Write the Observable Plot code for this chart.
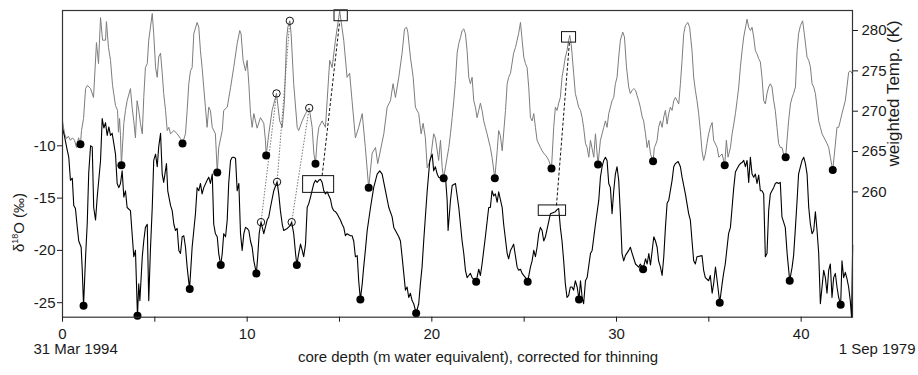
<!DOCTYPE html>
<html><head><meta charset="utf-8">
<script src="https://cdn.jsdelivr.net/npm/d3@7"></script>
<script src="https://cdn.jsdelivr.net/npm/@observablehq/plot@0.6"></script>
<style>body{margin:0;background:#fff} svg{display:block}</style>
</head><body><div id="chart"></div>
<script>
// weighted temperature (K) vs core depth (m w.e.)  [depth, T]
const tempSeries = [[0,268.8],[0.11,267.2],[0.22,266.6],[0.32,266.9],[0.43,266.4],[0.54,266.7],[0.65,266.4],[0.76,265.5],[0.87,266.7],[0.97,265.9],[1.03,267.6],[1.14,269.1],[1.25,272.8],[1.35,273.2],[1.52,272.8],[1.68,271.7],[1.84,278.5],[1.95,275.9],[2.06,281.6],[2.17,278.8],[2.33,278.8],[2.38,281.1],[2.49,277.9],[2.60,276.3],[2.71,273.2],[2.87,270.7],[2.98,270.1],[3.03,267.4],[3.09,269.1],[3.14,267.0],[3.19,263.3],[3.32,268.5],[3.41,270.1],[3.50,271.3],[3.68,272.8],[3.77,270.5],[3.86,268.8],[3.95,266.7],[4.04,271.3],[4.13,270.1],[4.22,268.5],[4.32,267.2],[4.40,271.7],[4.49,275.4],[4.59,275.9],[4.67,278.8],[4.86,282.1],[4.94,279.6],[5.04,275.4],[5.13,274.2],[5.21,276.7],[5.31,277.2],[5.40,274.7],[5.48,272.2],[5.58,270.1],[5.67,267.6],[5.76,268.0],[5.85,267.2],[6.03,267.6],[6.21,267.2],[6.39,266.6],[6.50,266.0],[6.66,267.2],[6.75,270.1],[6.84,273.4],[6.93,275.0],[7.02,275.4],[7.11,279.6],[7.29,281.0],[7.38,280.4],[7.47,277.5],[7.56,275.4],[7.65,272.9],[7.74,270.5],[7.83,268.0],[7.92,270.5],[8.01,270.1],[8.11,268.0],[8.28,267.2],[8.38,262.4],[8.46,265.5],[8.65,267.6],[8.73,270.1],[8.92,270.5],[9.10,272.9],[9.27,275.4],[9.46,278.4],[9.60,280.0],[9.67,279.6],[9.78,276.3],[9.91,275.0],[10.00,276.3],[10.09,273.4],[10.18,269.7],[10.27,268.0],[10.36,269.7],[10.45,268.8],[10.54,267.9],[10.72,269.2],[10.90,268.5],[10.99,266.4],[11.03,264.5],[11.17,267.2],[11.35,270.1],[11.59,272.2],[11.76,268.8],[11.90,268.0],[12.02,271.3],[12.13,278.8],[12.20,280.4],[12.31,281.2],[12.38,279.6],[12.52,273.4],[12.71,268.0],[12.79,267.6],[12.98,268.8],[13.16,269.7],[13.36,270.4],[13.52,268.0],[13.61,264.8],[13.70,263.5],[13.79,266.4],[13.88,268.0],[14.06,268.8],[14.24,268.0],[14.33,271.3],[14.47,276.3],[14.60,275.4],[14.78,278.8],[14.96,281.6],[15.01,282.4],[15.23,278.8],[15.41,274.2],[15.55,274.7],[15.68,271.3],[15.86,266.7],[16.04,268.0],[16.23,269.7],[16.40,265.5],[16.58,260.5],[16.77,264.8],[16.95,265.5],[17.07,263.5],[17.40,267.2],[17.58,270.5],[17.76,271.3],[17.90,273.4],[18.03,271.7],[18.21,274.2],[18.39,277.2],[18.52,280.2],[18.63,280.4],[18.70,279.8],[18.84,276.7],[18.99,274.2],[19.11,270.5],[19.29,269.7],[19.42,267.2],[19.53,268.5],[19.65,266.7],[19.75,263.0],[19.92,263.9],[20.10,267.2],[20.19,266.7],[20.37,263.9],[20.47,266.4],[20.56,263.0],[20.64,261.7],[20.83,264.3],[20.92,265.5],[21.01,267.2],[21.10,269.2],[21.19,271.3],[21.28,273.8],[21.37,277.2],[21.46,278.4],[21.55,279.1],[21.64,280.0],[21.73,280.2],[21.82,279.6],[21.91,277.5],[22.00,274.2],[22.09,273.4],[22.18,274.2],[22.27,271.3],[22.36,270.5],[22.45,269.2],[22.54,270.1],[22.63,271.0],[22.72,270.1],[22.81,268.8],[22.90,268.0],[22.99,267.2],[23.17,265.5],[23.26,264.3],[23.41,261.7],[23.54,265.1],[23.62,267.6],[23.71,267.0],[23.81,265.1],[23.99,270.1],[24.08,273.4],[24.16,274.2],[24.26,274.7],[24.43,277.2],[24.53,277.9],[24.62,278.8],[24.70,279.6],[24.80,281.0],[24.89,278.8],[24.98,276.7],[25.07,275.9],[25.16,275.4],[25.25,272.9],[25.34,269.2],[25.43,268.8],[25.52,269.7],[25.61,268.0],[25.70,266.4],[25.88,265.5],[25.97,265.1],[26.06,264.8],[26.24,264.3],[26.33,263.9],[26.48,262.9],[26.60,268.0],[26.69,270.5],[26.78,270.1],[26.87,271.0],[26.96,271.7],[27.05,274.2],[27.14,275.4],[27.23,276.7],[27.32,277.5],[27.41,278.8],[27.47,279.4],[27.54,278.4],[27.59,277.2],[27.68,274.7],[27.77,272.2],[27.87,271.3],[27.95,270.5],[28.05,270.1],[28.14,269.2],[28.22,268.0],[28.32,266.0],[28.41,265.5],[28.50,264.3],[28.59,266.4],[28.77,264.3],[28.86,267.2],[29.00,263.4],[29.13,266.4],[29.22,267.2],[29.31,268.0],[29.40,268.8],[29.49,268.0],[29.58,269.7],[29.76,271.3],[29.85,271.7],[29.94,273.4],[30.03,274.2],[30.12,276.7],[30.21,278.8],[30.34,279.8],[30.43,279.2],[30.54,275.5],[30.66,273.0],[30.75,272.2],[30.85,272.6],[30.94,272.8],[31.03,272.6],[31.12,271.9],[31.20,271.3],[31.29,270.5],[31.39,269.3],[31.47,268.8],[31.57,267.2],[31.66,265.5],[31.75,266.4],[31.84,264.7],[31.98,263.8],[32.05,265.5],[32.11,265.8],[32.20,266.4],[32.28,268.0],[32.38,268.8],[32.47,268.0],[32.56,269.3],[32.65,270.1],[32.74,268.4],[32.83,269.7],[32.92,270.5],[33.01,270.1],[33.10,271.3],[33.19,271.7],[33.28,271.3],[33.37,270.9],[33.46,273.4],[33.55,276.3],[33.64,279.6],[33.73,280.6],[33.86,281.0],[33.96,280.4],[34.09,277.5],[34.18,274.2],[34.27,272.6],[34.36,271.3],[34.45,269.7],[34.54,267.6],[34.63,265.1],[34.72,263.9],[34.81,264.7],[34.90,266.0],[34.99,267.2],[35.08,268.0],[35.18,268.6],[35.26,266.4],[35.45,265.5],[35.54,264.3],[35.72,264.7],[35.86,263.3],[35.95,266.4],[36.04,264.3],[36.17,265.5],[36.26,267.2],[36.35,268.4],[36.44,269.7],[36.53,271.3],[36.62,273.0],[36.71,275.5],[36.80,277.5],[36.89,279.2],[37.07,281.4],[37.16,280.4],[37.25,280.0],[37.34,280.4],[37.43,279.2],[37.52,277.5],[37.61,277.1],[37.70,276.5],[37.79,276.1],[37.88,274.2],[37.97,271.3],[38.06,270.9],[38.15,272.2],[38.24,273.0],[38.33,273.4],[38.42,273.0],[38.51,271.3],[38.60,270.1],[38.69,268.0],[38.78,266.0],[38.87,265.5],[38.96,265.5],[39.05,264.7],[39.16,264.3],[39.32,268.8],[39.42,270.9],[39.51,271.7],[39.59,272.2],[39.69,273.0],[39.78,277.5],[39.86,279.6],[39.96,280.6],[40.08,281.2],[40.17,279.6],[40.32,276.7],[40.41,276.3],[40.50,275.5],[40.59,273.4],[40.68,273.0],[40.77,272.2],[40.86,270.5],[40.95,268.8],[41.04,268.0],[41.13,267.2],[41.22,266.8],[41.40,266.0],[41.49,265.5],[41.58,264.3],[41.71,262.7],[41.80,264.7],[41.94,268.0],[42.03,268.0],[42.12,268.8],[42.21,269.7],[42.30,270.5],[42.39,271.3],[42.48,273.0],[42.57,274.8],[42.66,275.0],[42.79,274.6]];

// delta 18O (per mil) vs core depth  [depth, d18O]
const d18OSeries = [[0,-8.3],[0.11,-9.1],[0.22,-10.1],[0.34,-11.1],[0.43,-13.3],[0.53,-13.1],[0.61,-15.7],[0.70,-16.0],[0.80,-17.8],[0.88,-19.1],[1.01,-19.7],[1.07,-21.9],[1.14,-25.3],[1.25,-20.6],[1.34,-17.4],[1.42,-12.6],[1.52,-10.0],[1.61,-10.1],[1.69,-15.9],[1.79,-17.1],[1.88,-14.9],[2.06,-11.4],[2.15,-7.4],[2.24,-8.3],[2.33,-7.8],[2.42,-9.0],[2.51,-8.2],[2.60,-9.0],[2.69,-8.8],[2.78,-9.8],[2.87,-10.8],[2.96,-13.6],[3.05,-14.0],[3.14,-13.6],[3.23,-12.4],[3.32,-14.9],[3.41,-14.3],[3.50,-15.9],[3.68,-16.2],[3.77,-18.4],[3.86,-20.6],[3.95,-20.0],[4.06,-26.3],[4.13,-23.2],[4.19,-24.8],[4.32,-20.6],[4.40,-19.1],[4.49,-17.8],[4.59,-17.5],[4.67,-24.8],[4.76,-20.0],[4.86,-15.9],[4.94,-11.4],[5.04,-10.8],[5.13,-12.0],[5.21,-10.1],[5.31,-8.8],[5.40,-12.7],[5.48,-13.5],[5.63,-11.7],[5.70,-14.3],[5.85,-15.7],[5.94,-16.2],[6.03,-17.5],[6.12,-18.1],[6.21,-17.9],[6.30,-20.0],[6.39,-20.3],[6.48,-18.7],[6.57,-18.6],[6.66,-19.7],[6.75,-21.6],[6.88,-23.7],[7.02,-19.7],[7.11,-18.1],[7.20,-16.5],[7.29,-14.0],[7.38,-14.3],[7.47,-13.6],[7.56,-14.6],[7.65,-14.0],[7.83,-13.3],[7.92,-13.0],[8.01,-13.6],[8.11,-12.7],[8.19,-17.5],[8.28,-18.4],[8.38,-18.7],[8.46,-20.3],[8.57,-21.4],[8.65,-20.3],[8.73,-18.4],[8.83,-18.7],[8.92,-17.1],[9.00,-13.6],[9.10,-11.4],[9.19,-11.1],[9.27,-11.1],[9.37,-11.2],[9.46,-14.3],[9.55,-13.6],[9.64,-18.4],[9.73,-20.0],[9.82,-18.4],[9.91,-17.8],[10.00,-17.9],[10.09,-18.1],[10.18,-19.1],[10.27,-19.7],[10.36,-21.0],[10.50,-22.2],[10.57,-20.6],[10.65,-18.4],[10.75,-17.3],[10.90,-18.4],[11.08,-17.1],[11.17,-16.8],[11.26,-15.9],[11.44,-14.3],[11.62,-13.45],[11.71,-14.6],[11.80,-16.2],[11.90,-17.5],[11.98,-18.1],[12.17,-17.9],[12.34,-17.6],[12.41,-17.3],[12.52,-18.4],[12.62,-20.3],[12.69,-21.4],[12.79,-20.3],[12.89,-19.4],[12.98,-20.0],[13.06,-20.6],[13.16,-19.4],[13.25,-15.9],[13.34,-15.5],[13.43,-14.9],[13.61,-13.6],[13.70,-13.3],[13.79,-13.5],[13.88,-13.3],[13.97,-13.2],[14.06,-13.5],[14.15,-14.3],[14.24,-14.6],[14.33,-14.4],[14.51,-15.1],[14.60,-15.9],[14.69,-16.2],[14.78,-16.3],[14.87,-16.5],[14.96,-16.8],[15.05,-17.1],[15.14,-17.5],[15.23,-17.8],[15.32,-18.6],[15.41,-18.4],[15.59,-18.6],[15.68,-18.6],[15.77,-19.1],[15.86,-20.6],[15.96,-20.5],[16.04,-22.9],[16.13,-24.7],[16.23,-23.2],[16.31,-21.6],[16.40,-20.0],[16.50,-18.1],[16.68,-15.9],[16.85,-14.0],[17.04,-12.7],[17.18,-12.4],[17.31,-12.7],[17.49,-14.3],[17.67,-15.9],[17.85,-16.8],[17.94,-17.8],[18.21,-18.7],[18.30,-19.1],[18.39,-20.6],[18.48,-22.2],[18.57,-23.8],[18.66,-23.5],[18.75,-24.5],[18.84,-24.1],[18.93,-24.8],[19.02,-25.1],[19.15,-26.0],[19.29,-25.1],[19.38,-23.2],[19.47,-21.6],[19.56,-19.1],[19.65,-16.8],[19.75,-14.3],[19.89,-11.4],[20.02,-10.8],[20.10,-12.4],[20.19,-12.0],[20.29,-12.7],[20.37,-13.0],[20.56,-13.1],[20.74,-13.0],[20.83,-15.2],[20.88,-18.1],[21.01,-15.2],[21.10,-13.8],[21.28,-13.6],[21.46,-15.9],[21.64,-19.1],[21.73,-20.3],[21.82,-21.9],[21.91,-22.6],[22.00,-22.4],[22.09,-22.2],[22.18,-22.6],[22.40,-23.0],[22.54,-21.8],[22.63,-22.4],[22.72,-21.3],[22.90,-18.7],[23.08,-15.9],[23.17,-15.9],[23.26,-14.3],[23.35,-14.8],[23.44,-14.6],[23.54,-15.4],[23.62,-14.4],[23.81,-15.9],[23.89,-17.5],[24.08,-20.3],[24.16,-20.8],[24.26,-20.0],[24.35,-19.7],[24.43,-19.4],[24.62,-21.6],[24.70,-21.9],[24.80,-21.8],[24.89,-22.2],[25.07,-22.6],[25.19,-23.0],[25.34,-21.6],[25.43,-21.0],[25.52,-20.0],[25.61,-20.6],[25.70,-19.7],[25.79,-18.4],[25.88,-17.8],[25.97,-18.1],[26.06,-19.1],[26.15,-18.7],[26.42,-16.5],[26.69,-16.3],[26.78,-16.1],[26.87,-16.0],[26.96,-17.8],[27.05,-19.1],[27.14,-21.0],[27.23,-23.2],[27.32,-24.5],[27.41,-24.3],[27.50,-23.5],[27.59,-23.5],[27.68,-23.8],[27.77,-22.9],[27.87,-23.5],[27.97,-24.7],[28.05,-22.9],[28.14,-24.5],[28.22,-25.1],[28.32,-22.9],[28.41,-22.6],[28.59,-20.3],[28.68,-20.0],[28.86,-17.5],[29.04,-15.2],[29.13,-13.0],[29.22,-12.0],[29.31,-11.4],[29.40,-11.1],[29.49,-11.4],[29.58,-13.6],[29.67,-14.0],[29.76,-16.5],[29.85,-14.3],[29.94,-12.7],[30.03,-12.0],[30.12,-13.3],[30.21,-16.5],[30.30,-20.3],[30.39,-21.0],[30.48,-20.5],[30.66,-20.0],[30.75,-19.7],[30.85,-20.3],[31.03,-21.3],[31.20,-21.6],[31.29,-21.3],[31.44,-21.8],[31.57,-20.8],[31.66,-21.3],[31.75,-20.3],[31.84,-21.4],[32.02,-18.7],[32.11,-19.1],[32.20,-19.7],[32.28,-21.0],[32.38,-21.6],[32.47,-22.4],[32.56,-20.6],[32.65,-17.8],[32.74,-15.5],[32.83,-15.2],[33.01,-13.3],[33.10,-12.0],[33.19,-11.7],[33.34,-11.5],[33.46,-12.0],[33.55,-13.0],[33.73,-14.6],[33.91,-16.5],[34.00,-17.1],[34.09,-19.1],[34.18,-21.0],[34.27,-21.3],[34.36,-20.6],[34.63,-20.5],[34.72,-21.9],[34.81,-22.6],[34.99,-22.9],[35.08,-22.4],[35.18,-24.1],[35.26,-23.2],[35.36,-21.6],[35.45,-22.9],[35.59,-25.0],[35.72,-23.2],[35.80,-22.2],[35.89,-21.3],[36.07,-18.4],[36.17,-17.8],[36.26,-15.9],[36.35,-14.0],[36.44,-12.5],[36.53,-12.2],[36.62,-11.9],[36.71,-11.7],[36.80,-11.6],[36.89,-11.4],[36.98,-12.0],[37.07,-11.4],[37.16,-13.5],[37.25,-11.1],[37.34,-12.7],[37.43,-13.0],[37.52,-12.7],[37.61,-13.6],[37.70,-12.8],[37.79,-14.3],[37.88,-14.3],[37.97,-14.6],[38.06,-20.6],[38.15,-20.3],[38.24,-16.2],[38.33,-14.6],[38.42,-14.3],[38.51,-14.0],[38.60,-13.6],[38.69,-13.5],[38.78,-13.6],[38.87,-13.5],[38.96,-16.8],[39.05,-17.3],[39.14,-17.8],[39.24,-20.3],[39.38,-22.9],[39.51,-21.6],[39.59,-20.5],[39.69,-17.8],[39.78,-15.2],[39.86,-12.7],[39.96,-12.0],[40.05,-11.4],[40.14,-11.1],[40.23,-11.7],[40.32,-12.7],[40.41,-15.9],[40.50,-17.5],[40.59,-18.4],[40.68,-18.1],[40.77,-16.3],[40.86,-18.1],[40.95,-20.3],[41.04,-25.1],[41.13,-23.5],[41.22,-21.9],[41.31,-22.6],[41.40,-24.1],[41.49,-21.9],[41.58,-21.3],[41.67,-24.5],[41.76,-22.6],[41.85,-22.2],[41.94,-23.5],[42.03,-24.5],[42.14,-25.2],[42.21,-21.0],[42.30,-22.6],[42.39,-22.1],[42.48,-22.7],[42.57,-23.5],[42.66,-24.8],[42.73,-26.4],[42.79,-19.5]];

// annual minima (filled dots)
const tempMinDepth = [0.97, 3.19, 6.50, 8.38, 11.03, 13.70, 16.58, 20.64, 23.41, 26.48, 29.00, 31.98, 35.86, 39.16, 41.71];
const tempMinK     = [265.9, 263.3, 266.0, 262.4, 264.5, 263.5, 260.5, 261.7, 261.7, 262.9, 263.4, 263.8, 263.3, 264.3, 262.7];
const d18OMinDepth = [1.14, 4.06, 6.89, 8.57, 10.50, 12.69, 16.13, 19.15, 22.40, 25.19, 27.97, 31.44, 35.59, 39.38, 42.14];
const d18OMin      = [-25.3, -26.25, -23.7, -21.4, -22.2, -21.4, -24.7, -26.0, -23.0, -23.0, -24.7, -21.8, -25.0, -22.9, -25.2];

// matched features (open circles) linked by dotted lines
const circD18ODepth = [10.75, 11.62, 12.41];
const circD18O      = [-17.3, -13.45, -17.3];
const circTempDepth = [11.59, 12.31, 13.36];
const circTempK     = [272.2, 281.2, 270.4];

// boxed features linked by dashed lines
const boxD18ODepth1 = [13.03, 25.79], boxD18ODepth2 = [14.71, 27.27];
const boxD18O1 = [-12.9, -15.7], boxD18O2 = [-14.5, -16.7];
const boxTempDepth1 = [14.73, 27.05], boxTempDepth2 = [15.45, 27.81];
const boxTempK1 = [281.15, 278.5], boxTempK2 = [282.5, 279.8];
const linkD18ODepth = [14.06, 26.75], linkD18O = [-12.85, -15.7];
const linkTempDepth = [15.01, 27.45], linkTempK = [281.15, 278.5];

const xTicks = [0, 5, 10, 15, 20, 25, 30, 35, 40];
const yTicksLeft = [-25, -20, -15, -10];
const yTicksRight = [260, 265, 270, 275, 280];

// secondary axis: temperature mapped onto the d18O scale
const tToY = t => 1.023 - 0.7715 * (280 - t);
const yToT = y => (y - 1.023) / 0.7715 + 280;

const tempRows = tempSeries.map(([d, t]) => ({depth: d, y: tToY(t)}));
const dRows = d18OSeries.map(([d, v]) => ({depth: d, y: v}));
const minRows = tempMinDepth.map((d, i) => ({depth: d, y: tToY(tempMinK[i])}))
  .concat(d18OMinDepth.map((d, i) => ({depth: d, y: d18OMin[i]})));
const circRows = circD18ODepth.map((d, i) => ({depth: d, y: circD18O[i]}))
  .concat(circTempDepth.map((d, i) => ({depth: d, y: tToY(circTempK[i])})));
const circLinks = circD18ODepth.map((d, i) => ({x1: d, y1: circD18O[i], x2: circTempDepth[i], y2: tToY(circTempK[i])}));
const boxRows = boxD18ODepth1.map((d, i) => ({x1: d, x2: boxD18ODepth2[i], y1: boxD18O1[i], y2: boxD18O2[i]}))
  .concat(boxTempDepth1.map((d, i) => ({x1: d, x2: boxTempDepth2[i], y1: tToY(boxTempK1[i]), y2: tToY(boxTempK2[i])})));
const boxLinks = linkD18ODepth.map((d, i) => ({x1: d, y1: linkD18O[i], x2: linkTempDepth[i], y2: tToY(linkTempK[i])}));

const font = "'Liberation Sans', Arial, Helvetica, sans-serif";

const chart = Plot.plot({
  width: 918, height: 375,
  marginLeft: 62, marginRight: 66, marginTop: 10, marginBottom: 58.3,
  style: {fontFamily: font, fontSize: "15px", background: "#fff", color: "#1a1a1a", overflow: "visible"},
  x: {domain: [0, 42.78]},
  y: {domain: [-26.386, 2.935]},
  marks: [
    Plot.line(tempRows, {x: "depth", y: "y", stroke: "#7d7d7d", strokeWidth: 1}),
    Plot.line(dRows, {x: "depth", y: "y", stroke: "#000", strokeWidth: 1.1}),
    Plot.link(circLinks, {x1: "x1", y1: "y1", x2: "x2", y2: "y2", stroke: "#666", strokeWidth: 0.9, strokeDasharray: "1.5,1.5"}),
    Plot.link(boxLinks, {x1: "x1", y1: "y1", x2: "x2", y2: "y2", stroke: "#111", strokeWidth: 1, strokeDasharray: "3,2"}),
    Plot.rect(boxRows, {x1: "x1", x2: "x2", y1: "y1", y2: "y2", fill: "none", stroke: "#111", strokeWidth: 1}),
    Plot.dot(circRows, {x: "depth", y: "y", r: 3.7, stroke: "#111", fill: "none", strokeWidth: 1}),
    Plot.dot(minRows, {x: "depth", y: "y", r: 4, fill: "#000", stroke: "none"}),
    Plot.frame({stroke: "#333", strokeWidth: 1.2}),
    Plot.axisX(xTicks, {anchor: "bottom", tickSize: 5, tickPadding: 6, label: null,
      tickFormat: d => d % 10 === 0 ? String(d) : ""}),
    Plot.axisY(yTicksLeft, {anchor: "left", tickSize: 5, tickPadding: 2, label: null, tickFormat: d => String(d)}),
    Plot.axisY(yTicksRight.map(tToY), {anchor: "right", tickSize: 5, tickPadding: 4, label: null,
      tickFormat: y => String(Math.round(yToT(y)))}),
    Plot.text(["31 Mar 1994"], {text: d => d, frameAnchor: "bottom-left", textAnchor: "start", dx: -29, dy: 37}),
    Plot.text(["1 Sep 1979"], {text: d => d, frameAnchor: "bottom-right", textAnchor: "end", dx: 63, dy: 37}),
    Plot.text(["core depth (m water equivalent), corrected for thinning"], {text: d => d, frameAnchor: "bottom", dx: 20.5, dy: 44.5})
  ]
});

const svg = d3.select(chart);
// left axis title with superscript
const lt = svg.append("text")
  .attr("transform", "translate(24,222.5) rotate(-90)")
  .attr("text-anchor", "middle")
  .attr("font-family", font).attr("font-size", 15).attr("fill", "#1a1a1a");
lt.append("tspan").text("δ");
lt.append("tspan").attr("font-size", 9).attr("dy", -6).text("18");
lt.append("tspan").attr("dy", 6).text("O (‰)");
// right axis title
svg.append("text")
  .attr("transform", "translate(898.5,93.5) rotate(-90)")
  .attr("text-anchor", "middle")
  .attr("font-family", font).attr("font-size", 17).attr("fill", "#1a1a1a")
  .text("weighted Temp. (K)");

document.getElementById("chart").appendChild(chart);
</script>
</body></html>
